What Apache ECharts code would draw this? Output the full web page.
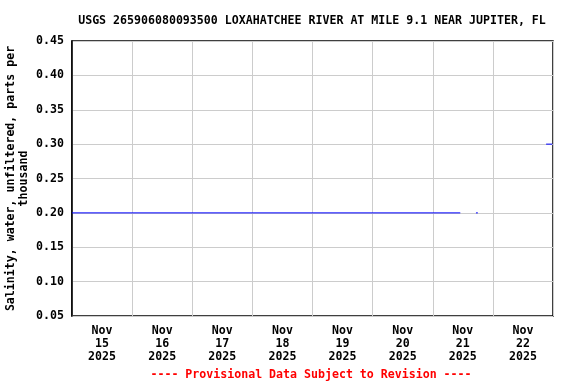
<!DOCTYPE html>
<html>
<head>
<meta charset="utf-8">
<script src="https://cdn.jsdelivr.net/npm/echarts@6/dist/echarts.min.js"></script>
<style>html,body{margin:0;padding:0;background:#fff;}#c{width:576px;height:384px;}</style>
</head>
<body>
<div id="c"></div>
<script>
// Hours since Nov 15 2025 00:00
const dateLabels = ['Nov\n15\n2025','Nov\n16\n2025','Nov\n17\n2025','Nov\n18\n2025','Nov\n19\n2025','Nov\n20\n2025','Nov\n21\n2025','Nov\n22\n2025'];
const seg1Hours = [0, 155];
const seg1Values = [0.20, 0.20];
const seg2Hours = [161.25, 162];
const seg2Values = [0.20, 0.20];
const seg3Hours = [189.25, 191.75];
const seg3Values = [0.30, 0.30];
const yTicks = [0.05, 0.45, 0.05]; // min, max, interval

const salinity = [];
function addSeg(h, v) {
  if (salinity.length) salinity.push([(salinity[salinity.length-1][0] + h[0]) / 2, null]);
  for (let i = 0; i < h.length; i++) salinity.push([h[i], v[i]]);
}
addSeg(seg1Hours, seg1Values);
addSeg(seg2Hours, seg2Values);
addSeg(seg3Hours, seg3Values);

const FONT = 'DejaVu Sans Mono';
const FS = 11.6;
const chart = echarts.init(document.getElementById('c'), null, {renderer: 'canvas'});
chart.setOption({
  animation: false,
  backgroundColor: '#fff',
  graphic: [{
    type: 'text', x: 312, y: 15,
    style: {text: 'USGS 265906080093500 LOXAHATCHEE RIVER AT MILE 9.1 NEAR JUPITER, FL', fill: '#000',
      align: 'center', font: 'bold 11.6px "DejaVu Sans Mono"'}
  }, {
    type: 'text', x: 311, y: 369,
    style: {text: '---- Provisional Data Subject to Revision ----', fill: '#ff0000',
      align: 'center', font: 'bold 11.6px "DejaVu Sans Mono"'}
  }],
  grid: {left: 72, right: 23, top: 41, bottom: 68, outerBoundsMode: 'none', containLabel: false,
    show: true, borderColor: '#000', borderWidth: 1.5, backgroundColor: 'transparent'},
  xAxis: [{
    type: 'value', min: 0, max: 192, interval: 12,
    axisLine: {show: false}, axisTick: {show: false}, splitLine: {show: false},
    axisLabel: {
      fontFamily: FONT, fontWeight: 'bold', fontSize: FS, color: '#000', lineHeight: 13, margin: 8,
      hideOverlap: false, showMinLabel: false, showMaxLabel: false,
      formatter: v => (v % 24 === 12) ? dateLabels[(v - 12) / 24] : ''
    }
  }, {
    type: 'value', min: 0, max: 192, interval: 24, position: 'bottom',
    axisLine: {show: false}, axisTick: {show: false}, axisLabel: {show: false},
    splitLine: {show: true, lineStyle: {color: '#cccccc', width: 1}}
  }],
  yAxis: {
    type: 'value', min: yTicks[0], max: yTicks[1], interval: yTicks[2],
    name: 'Salinity, water, unfiltered, parts per\nthousand',
    nameLocation: 'middle', nameRotate: 90, nameGap: 42, nameMoveOverlap: false,
    nameTextStyle: {fontFamily: FONT, fontWeight: 'bold', fontSize: FS, color: '#000', lineHeight: 12.5, align: 'center'},
    axisLine: {show: true, lineStyle: {color: '#000', width: 1.5}}, axisTick: {show: false},
    splitLine: {show: true, lineStyle: {color: '#cccccc', width: 1}},
    axisLabel: {fontFamily: FONT, fontWeight: 'bold', fontSize: FS, color: '#000', margin: 8,
      formatter: v => v.toFixed(2)}
  },
  series: [{
    type: 'line', data: salinity, xAxisIndex: 0, showSymbol: false, connectNulls: false,
    lineStyle: {color: '#0000ff', width: 1}, itemStyle: {color: '#0000ff'}
  }]
});
</script>
</body>
</html>
